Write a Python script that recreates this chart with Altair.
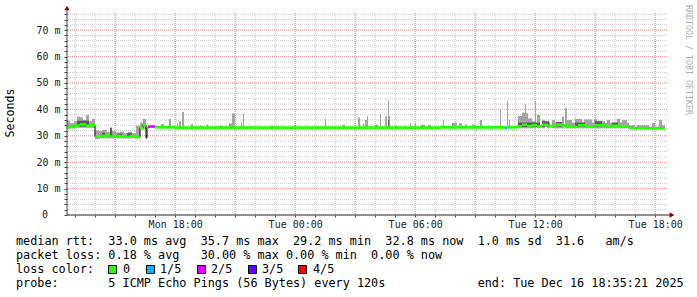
import altair as alt
import pandas as pd

# ---------------- data ----------------
START_H = 12 + 35 / 60 + 21 / 3600          # Mon 12:35:21 (hours since Mon 00:00)
END_H = START_H + 30                         # Tue 18:35:21

# median rtt segments (minutes after window start), value in ms, lost pings (None = no colour)
med_start = [0, 9, 21, 39, 57, 69, 84, 99, 114, 129, 144, 159, 174, 189, 207, 219, 228, 237, 240, 244,
             264, 324, 1119, 1314, 1320, 1350, 1365, 1380, 1395, 1410, 1425, 1443, 1464, 1485, 1509,
             1533, 1554, 1584, 1614, 1635, 1659, 1686, 1734]
med_end = [9, 21, 39, 57, 69, 84, 99, 114, 129, 144, 159, 174, 189, 207, 219, 228, 237, 240, 244, 264,
           324, 1119, 1314, 1320, 1350, 1365, 1380, 1395, 1410, 1425, 1443, 1464, 1485, 1509, 1533,
           1554, 1584, 1614, 1635, 1659, 1686, 1734, 1794]
med_ms = [33.6, 33.3, 33.9, 34.3, 33.8, 34.0, 29.6, 29.9, 30.2, 29.7, 30.0, 29.8, 29.6, 29.9, 29.5,
          33.0, 34.0, 29.2, 33.0, 33.5, 33.2, 33.1, 33.2, 33.0, 33.2, 33.6, 34.2, 33.7, 34.0, 33.5,
          34.2, 33.7, 34.2, 33.8, 33.4, 34.0, 33.6, 34.0, 33.5, 33.8, 33.5, 32.9, 32.8]
med_loss = [0, 0, 0, 0, 0, 0, 0, 0, 0, 0, 0, 0, 0, 0, 0, 0, 0, None, 1, 2,
            0, 0, 0, 1, 0, 0, 0, 0, 0, 0, 0, 0, 0, 0, 0, 0, 0, 0, 0, 0, 0, 0, 0]

# smoke (ping spread) segments: start/end minute, low/high ms
smoke_start = [0, 9, 21, 30, 39, 48, 57, 66, 75, 84, 96, 108, 120, 129, 135, 147, 159, 171, 183, 195,
               207, 219, 228, 282, 306, 330, 336, 345, 372, 399, 420, 456, 477, 486, 495, 522, 528,
               552, 612, 681, 774, 828, 873, 888, 894, 900, 924, 939, 954, 963, 966, 984, 1014, 1029,
               1044, 1062, 1083, 1128, 1155, 1176, 1194, 1215, 1239, 1263, 1299, 1320, 1326, 1353,
               1365, 1374, 1377, 1383, 1395, 1404, 1410, 1425, 1440, 1455, 1464, 1485, 1494, 1500,
               1515, 1524, 1545, 1551, 1575, 1581, 1590, 1596, 1614, 1620, 1629, 1650, 1659, 1665,
               1680, 1686, 1704, 1710, 1746, 1755, 1764, 1776, 1785]
smoke_end = [9, 21, 30, 39, 48, 57, 66, 75, 84, 96, 108, 120, 129, 135, 147, 159, 171, 183, 195, 207,
             219, 228, 237, 291, 312, 333, 342, 351, 378, 408, 423, 468, 480, 495, 504, 525, 531,
             555, 618, 687, 777, 834, 879, 891, 900, 903, 933, 942, 960, 966, 969, 990, 1017, 1032,
             1047, 1074, 1092, 1131, 1170, 1185, 1200, 1224, 1245, 1269, 1302, 1323, 1329, 1365,
             1374, 1377, 1383, 1395, 1404, 1407, 1419, 1434, 1449, 1464, 1485, 1491, 1500, 1515,
             1524, 1545, 1551, 1575, 1581, 1590, 1596, 1614, 1620, 1629, 1650, 1659, 1665, 1680,
             1686, 1704, 1710, 1746, 1755, 1764, 1776, 1785, 1794]
smoke_lo = [32.6, 32.8, 32.8, 33.0, 33.0, 33.0, 33.0, 33.0, 33.0, 28.8, 29.0, 29.0, 29.0, 29.0, 29.0,
            29.0, 29.0, 29.0, 29.0, 29.0, 29.0, 32.5, 32.5] + [32.8] * 75 + [32.5] * 7
smoke_hi = [35.8, 34.8, 35.5, 37.3, 37.0, 36.0, 37.8, 35.5, 36.5, 32.0, 31.8, 32.3, 31.5, 33.0, 31.8,
            31.3, 31.6, 31.0, 31.5, 31.0, 33.8, 35.0, 36.4, 34.4, 36.4, 34.8, 35.5, 39.0, 34.4, 33.8,
            34.4, 33.8, 33.8, 34.7, 38.5, 35.3, 38.3, 33.8, 33.8, 34.0, 36.4, 34.2, 36.9, 34.7, 36.0,
            37.6, 34.2, 38.3, 37.3, 43.2, 37.6, 33.8, 33.8, 34.8, 34.8, 34.2, 34.0, 36.0, 35.0, 34.7,
            34.2, 34.2, 36.0, 33.8, 39.8, 43.2, 36.0, 37.5, 38.8, 41.9, 38.5, 36.6, 35.5, 43.2, 37.9,
            36.0, 35.3, 36.0, 35.0, 37.3, 40.6, 36.0, 35.0, 36.4, 35.0, 36.2, 35.0, 36.4, 35.0, 35.5,
            34.8, 36.0, 35.0, 36.4, 35.0, 36.0, 35.0, 34.0, 33.5, 34.0, 33.5, 34.8, 33.5, 36.0, 34.0]

# inner (dense) smoke
dark_start = [30, 105, 129, 150, 180, 963, 1353, 1425, 1467, 1524, 1584, 1635]
dark_end = [66, 114, 135, 165, 195, 966, 1419, 1446, 1485, 1554, 1605, 1653]
dark_lo = [33.5, 29.8, 29.8, 29.8, 29.8, 33.0, 33.3, 33.5, 33.5, 33.5, 33.5, 33.5]
dark_hi = [35.7, 31.2, 33.0, 30.8, 31.0, 36.0, 35.0, 35.5, 35.2, 35.0, 35.5, 35.0]

loss_labels = ["0", "1/5", "2/5", "3/5", "4/5"]
loss_colors = ["#26ff00", "#00b8ff", "#dd00ff", "#5e00ff", "#ff0000"]

x_tick_hours = [18, 24, 30, 36, 42]
x_tick_labels = ["Mon 18:00", "Tue 00:00", "Tue 06:00", "Tue 12:00", "Tue 18:00"]
minor_hours = list(range(13, 43))
major_hours = list(range(15, 43, 3))
minor_ms = list(range(2, 77, 2))
major_ms = list(range(10, 71, 10))
zero_label = "0"

line_rtt = "median rtt:  33.0 ms avg  35.7 ms max  29.2 ms min  32.8 ms now  1.0 ms sd  31.6   am/s"
line_loss = "packet loss: 0.18 % avg   30.00 % max 0.00 % min  0.00 % now"
line_color = "loss color:"
line_probe = "probe:       5 ICMP Echo Pings (56 Bytes) every 120s             end: Tue Dec 16 18:35:21 2025"
watermark = "RRDTOOL / TOBI OETIKER"
y_title = "Seconds"


def hrs(mins):
    return [START_H + m / 60 for m in mins]


# ---------------- frames ----------------
med = pd.DataFrame({"h0": hrs(med_start), "h1": hrs(med_end), "ms": med_ms, "loss": med_loss})
med_col = med[med["loss"].notna()].copy()
med_col["lab"] = [loss_labels[int(v)] for v in med_col["loss"]]
step_pts = pd.DataFrame({"h": hrs(med_start) + [hrs(med_end)[-1]], "ms": med_ms + [med_ms[-1]]})
smoke = pd.DataFrame({"h0": hrs(smoke_start), "h1": hrs(smoke_end), "lo": smoke_lo, "hi": smoke_hi})
dark = pd.DataFrame({"h0": hrs(dark_start), "h1": hrs(dark_end), "lo": dark_lo, "hi": dark_hi})

XS = alt.Scale(domain=[START_H, END_H], nice=False, zero=False)
YS = alt.Scale(domain=[0, 76.5], nice=False, zero=True)
MONO = "DejaVu Sans Mono"

xlab_expr = " : ".join(f"datum.value == {h} ? '{t}'" for h, t in zip(x_tick_hours, x_tick_labels)) + " : ''"
XA = alt.Axis(values=minor_hours, labelExpr=xlab_expr, domain=False, grid=False, title=None,
              tickSize=2, tickColor="#444", labelFont=MONO, labelFontSize=10, labelColor="#222",
              labelPadding=2, labelFlush=False, labelOverlap=False, labelBound=False)
YA = alt.Axis(values=[0] + minor_ms,
              labelExpr="datum.value % 10 == 0 && datum.value > 0 ? datum.value + ' m' : ''",
              domain=False, grid=False, title=None, tickSize=3, tickColor="#444",
              labelFont=MONO, labelFontSize=10, labelColor="#222", labelPadding=4, labelOverlap=False)


def X(f):
    return alt.X(f, scale=XS, axis=XA)


def Y(f):
    return alt.Y(f, scale=YS, axis=YA)


grid_v_minor = alt.Chart(pd.DataFrame({"h": minor_hours})).mark_rule(
    color="#c8c8c8", strokeDash=[1, 1], strokeWidth=1).encode(x=X("h:Q"))
grid_h_minor = alt.Chart(pd.DataFrame({"ms": minor_ms})).mark_rule(
    color="#c8c8c8", strokeDash=[1, 1], strokeWidth=1).encode(y=Y("ms:Q"))
grid_v_major = alt.Chart(pd.DataFrame({"h": major_hours})).mark_rule(
    color="#ee9a9a", strokeDash=[1, 1], strokeWidth=1).encode(x=X("h:Q"))
grid_h_major = alt.Chart(pd.DataFrame({"ms": major_ms})).mark_rule(
    color="#ee9a9a", strokeDash=[1, 1], strokeWidth=1).encode(y=Y("ms:Q"))

smoke_l = alt.Chart(smoke).mark_rect(color="#a4a4a4").encode(
    x=X("h0:Q"), x2="h1:Q", y=Y("lo:Q"), y2="hi:Q")
dark_l = alt.Chart(dark).mark_rect(color="#5a5a5a").encode(
    x=X("h0:Q"), x2="h1:Q", y=Y("lo:Q"), y2="hi:Q")
step_l = alt.Chart(step_pts).mark_line(interpolate="step-after", color="#000", strokeWidth=1).encode(
    x=X("h:Q"), y=Y("ms:Q"))
med_l = alt.Chart(med_col).mark_rule(strokeWidth=2.6, strokeCap="butt").encode(
    x=X("h0:Q"), x2="h1:Q", y=Y("ms:Q"),
    color=alt.Color("lab:N", scale=alt.Scale(domain=loss_labels, range=loss_colors), legend=None))

one = pd.DataFrame({"k": [0]})
axis_y_line = alt.Chart(one).mark_rule(color="#444", strokeWidth=1).encode(
    x=alt.value(0), y=alt.value(202), y2=alt.value(-3))
axis_x_line = alt.Chart(one).mark_rule(color="#222", strokeWidth=1).encode(
    x=alt.value(0), x2=alt.value(603), y=alt.value(202))
arrow_up = alt.Chart(one).mark_point(shape="triangle-up", filled=True, color="#8b0000", size=30, opacity=1).encode(
    x=alt.value(0), y=alt.value(-5))
arrow_right = alt.Chart(one).mark_point(shape="triangle-right", filled=True, color="#8b0000", size=30, opacity=1).encode(
    x=alt.value(605), y=alt.value(202))


def text_layer(s, px, py, size=11.8, color="#000", angle=0, align="left"):
    df = pd.DataFrame({"t": [s.replace(" ", "\u00a0")]})
    return alt.Chart(df).mark_text(font=MONO, fontSize=size, color=color, align=align,
                                   baseline="middle", angle=angle).encode(
        text="t:N", x=alt.value(px), y=alt.value(py))


texts = [
    text_layer(line_rtt, 16 - 67, 241 - 13),
    text_layer(line_loss, 16 - 67, 255 - 13),
    text_layer(line_color, 16 - 67, 269 - 13),
    text_layer(line_probe, 16 - 67, 283 - 13),
    text_layer(y_title, 11 - 67, 113 - 13, size=11.6, angle=270, align="center"),
    text_layer(watermark, 688 - 67, 5 - 13, size=8.3, color="#b0b0b0", angle=90),
    text_layer(zero_label, 48 - 67, 202, size=10, color="#222", align="right"),
]

box_x = [108, 146, 197, 248, 298]
lab_x = [123, 160, 211, 262, 313]
legend_layers = []
for i, (lab, col) in enumerate(zip(loss_labels, loss_colors)):
    legend_layers.append(
        alt.Chart(pd.DataFrame({"c": [col]})).mark_rect(stroke="#000", strokeWidth=1, color=col).encode(
            x=alt.value(box_x[i] - 67 + 0.5), x2=alt.value(box_x[i] - 67 + 8.5),
            y=alt.value(265 - 13 + 0.5), y2=alt.value(273 - 13 + 0.5)))
    legend_layers.append(text_layer(lab, lab_x[i] - 67, 269 - 13))

chart = alt.layer(
    grid_v_minor, grid_h_minor, grid_v_major, grid_h_major,
    smoke_l, dark_l, step_l, med_l,
    axis_y_line, axis_x_line, arrow_up, arrow_right,
    *texts, *legend_layers,
).properties(
    width=600, height=202,
    padding={"left": 67, "top": 13, "right": 30, "bottom": 82},
    autosize=alt.AutoSizeParams(type="none"),
    background="white",
).configure_view(stroke=None)

chart.save("out.html", embed_options={"renderer": "svg", "actions": False})
